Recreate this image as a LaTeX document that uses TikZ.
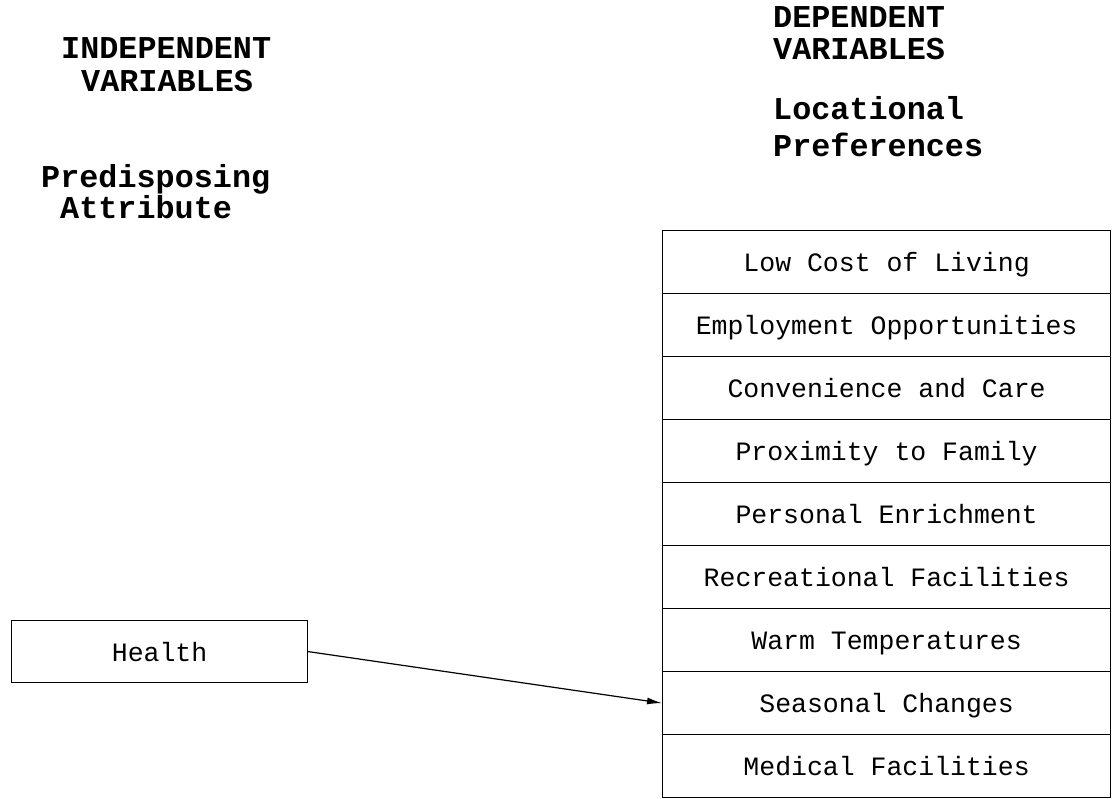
\documentclass[tikz,border=0pt]{standalone}
\usepackage{fontspec}
\setmonofont{Liberation Mono}
\usetikzlibrary{arrows.meta}
\begin{document}
\begin{tikzpicture}[x=1pt,y=-1pt,
  head/.style={font=\ttfamily\bfseries\fontsize{31.8}{34}\selectfont, anchor=base west, inner sep=0pt},
  cell/.style={draw, line width=1.2pt, minimum width=448pt, minimum height=63pt, inner sep=0pt,
    text height=23pt, text depth=4pt,
    font=\ttfamily\fontsize{26.5}{28}\selectfont, anchor=north west},
  link/.style={line width=1.2pt, -{Latex[length=15pt,width=7pt]}}]
\useasboundingbox (0,0) rectangle (1113,799);
\fill[white] (0,0) rectangle (1113,799);
% headings
\node[head] (h1) at (61,59) {INDEPENDENT};
\node[head] (h2) at (81,92) {VARIABLES};
\node[head] (h3) at (41,188) {Predisposing};
\node[head] (h4) at (60,219) {Attribute};
\node[head] (h5) at (773,28) {DEPENDENT};
\node[head] (h6) at (773,60) {VARIABLES};
\node[head] (h7) at (773,120) {Locational};
\node[head] (h8) at (773,157) {Preferences};
% dependent variable cells
\node[cell] (c1) at (662,230) {Low Cost of Living};
\node[cell] (c2) at (662,293) {Employment Opportunities};
\node[cell] (c3) at (662,356) {Convenience and Care};
\node[cell] (c4) at (662,419) {Proximity to Family};
\node[cell] (c5) at (662,482) {Personal Enrichment};
\node[cell] (c6) at (662,545) {Recreational Facilities};
\node[cell] (c7) at (662,608) {Warm Temperatures};
\node[cell] (c8) at (662,671) {Seasonal Changes};
\node[cell] (c9) at (662,734) {Medical Facilities};
% independent variable
\node[cell, minimum width=296pt, minimum height=62pt, text height=20pt, text depth=0pt] (health) at (11,620) {Health};
\draw[link] (health.east) -- (c8.west);
\end{tikzpicture}
\end{document}
